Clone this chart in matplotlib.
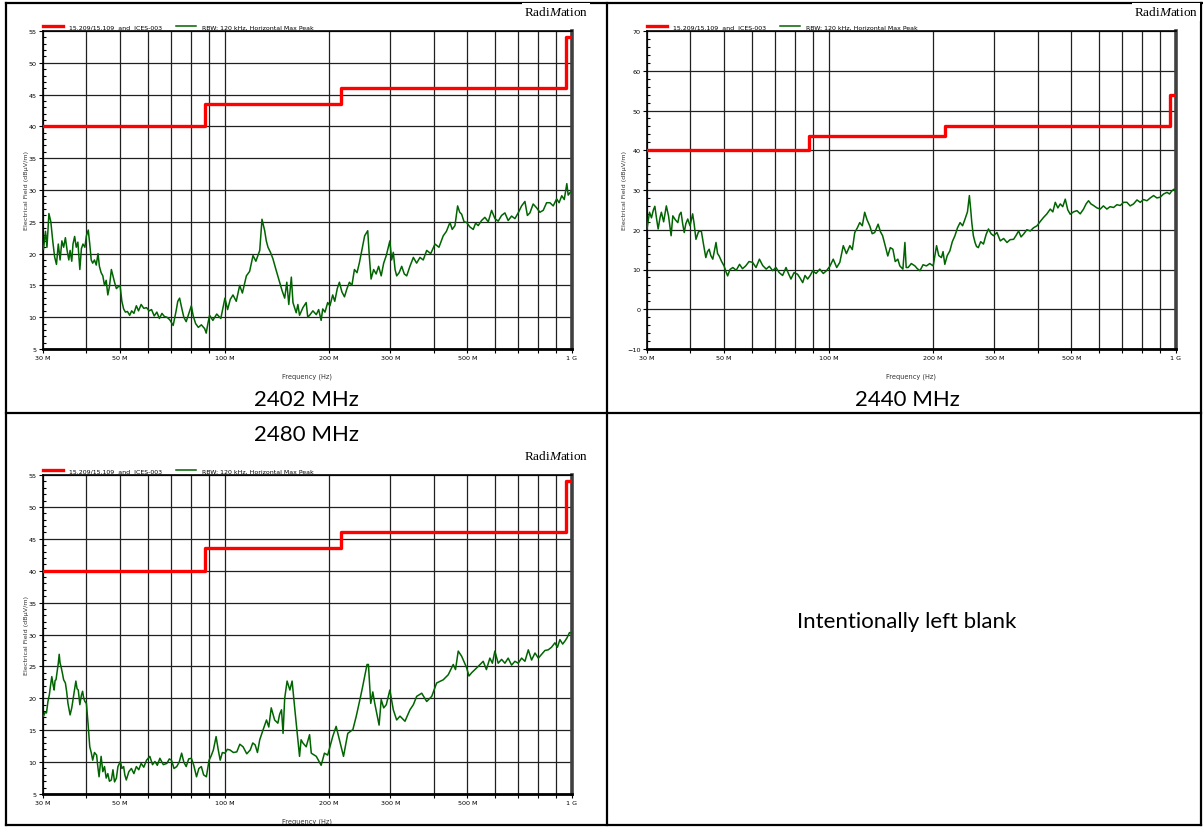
import matplotlib
matplotlib.use("Agg")
import matplotlib.pyplot as plt
from matplotlib.lines import Line2D
from matplotlib.ticker import FixedLocator, MultipleLocator

plt.rcParams['mathtext.fontset'] = 'custom'
plt.rcParams['mathtext.rm'] = 'Liberation Serif'
plt.rcParams['mathtext.it'] = 'Liberation Serif:italic'

# limit line 15.209 / 15.109 (MHz, dBuV/m)
LIMIT_F = [30, 88, 88, 216, 216, 960, 960, 1000]
LIMIT_L = [40, 40, 43.5, 43.5, 46, 46, 54, 54]

# grid / tick frequencies (MHz)
GRID_F = [30, 40, 50, 60, 70, 80, 90, 100, 200, 300, 400, 500, 600, 700, 800, 900, 1000]
LABEL_F = {30: "30 M", 50: "50 M", 100: "100 M", 200: "200 M", 300: "300 M", 500: "500 M", 1000: "1 G"}

CAPTIONS = ["2402 MHz", "2440 MHz", "2480 MHz"]
BLANK_TEXT = "Intentionally left blank"

# measured traces, (MHz, dBuV/m)
TRACE_2402 = [
    (30.1, 20.7), (30.5, 23.5), (30.8, 21.0), (31.2, 26.3), (31.6, 25.0), (32.0, 22.0), (32.4, 19.5),
    (32.8, 18.3), (33.2, 21.5), (33.6, 19.0), (34.0, 22.0), (34.4, 21.0), (34.8, 22.5), (35.2, 20.5),
    (35.6, 19.0), (35.9, 20.5), (36.3, 18.8), (36.6, 21.5), (37.0, 22.7), (37.4, 21.0), (37.8, 21.8),
    (38.3, 17.5), (38.7, 20.8), (39.1, 21.5), (39.6, 21.0), (40.0, 22.8), (40.5, 23.7), (40.9, 21.5),
    (41.3, 19.0), (41.7, 18.5), (42.2, 19.0), (42.7, 18.2), (43.2, 20.0), (43.6, 18.0), (44.1, 17.0),
    (44.6, 16.5), (45.1, 15.0), (45.6, 15.8), (46.1, 13.5), (46.6, 14.8), (47.2, 17.5), (47.7, 16.5),
    (48.2, 15.5), (48.8, 14.5), (49.4, 14.8), (50.0, 15.0), (50.6, 12.5), (51.2, 11.3), (51.8, 10.8),
    (52.5, 10.9), (53.3, 10.3), (54.0, 11.0), (54.8, 10.6), (55.7, 11.8), (56.5, 11.0), (57.5, 12.0),
    (58.5, 11.4), (59.6, 11.5), (60.6, 11.0), (61.6, 11.2), (62.7, 10.2), (63.8, 10.8), (64.9, 9.8),
    (66.0, 10.6), (67.1, 10.1), (68.2, 10.0), (69.5, 9.6), (71.1, 8.7), (72.5, 11.0), (73.3, 12.5),
    (74.2, 13.0), (75.2, 11.5), (76.3, 10.0), (77.5, 9.3), (78.8, 10.5), (80.2, 11.8), (81.2, 10.2),
    (82.5, 9.0), (84.0, 8.4), (85.7, 8.8), (87.6, 8.2), (88.5, 7.5), (89.5, 9.0), (90.5, 10.3),
    (92.5, 9.5), (94.9, 10.5), (97.5, 9.8), (100.2, 13.0), (102.0, 11.2), (103.8, 12.8), (105.7, 13.5),
    (108.0, 12.5), (110.5, 15.0), (112.5, 13.8), (115.5, 16.5), (118.0, 17.2), (120.7, 19.7), (123.0, 18.8),
    (126.2, 20.5), (128.1, 25.4), (130.4, 23.6), (131.8, 22.0), (133.3, 21.0), (135.5, 20.2), (137.7, 19.2),
    (140.5, 17.5), (144.0, 15.5), (146.3, 14.2), (148.9, 13.0), (151.0, 15.5), (153.0, 12.0), (155.6, 16.3),
    (157.3, 12.3), (160.7, 10.7), (162.5, 12.0), (164.3, 10.3), (168.0, 11.5), (171.7, 12.3), (173.5, 10.0),
    (175.6, 10.3), (179.5, 11.0), (183.6, 10.4), (186.5, 11.2), (189.6, 9.5), (191.6, 11.3), (194.5, 10.8),
    (198.0, 12.3), (201.0, 11.8), (204.7, 13.5), (207.5, 12.5), (211.0, 14.5), (214.0, 15.5), (217.5, 14.0),
    (221.3, 13.2), (225.0, 14.5), (228.7, 15.5), (232.5, 15.0), (236.4, 17.5), (240.5, 17.0), (244.4, 18.6),
    (249.8, 21.2), (253.0, 22.8), (258.2, 23.6), (261.0, 19.5), (264.0, 16.0), (268.5, 17.5), (273.0, 16.8),
    (277.5, 18.0), (282.3, 16.5), (287.0, 18.5), (292.0, 19.7), (299.0, 22.0), (302.5, 19.0), (305.9, 20.2),
    (309.5, 17.5), (312.8, 16.5), (318.0, 17.0), (323.4, 18.0), (329.0, 16.8), (334.3, 16.5), (341.5, 18.0),
    (349.4, 19.4), (357.0, 18.5), (365.1, 19.4), (373.0, 19.0), (381.7, 20.5), (392.0, 20.0), (403.2, 21.5),
    (414.0, 21.0), (425.9, 22.8), (435.0, 23.5), (445.3, 24.9), (452.0, 23.8), (460.3, 24.4), (468.5, 27.5),
    (475.0, 26.5), (481.1, 26.2), (489.0, 25.0), (497.3, 24.9), (508.0, 24.2), (519.6, 23.8), (528.0, 24.8),
    (537.0, 24.4), (549.0, 25.2), (561.3, 25.7), (574.0, 25.0), (586.8, 26.8), (600.0, 25.5), (613.1, 25.1),
    (627.0, 26.0), (641.0, 26.4), (655.0, 25.2), (669.9, 25.9), (685.0, 25.5), (700.0, 26.4), (716.0, 27.5),
    (731.9, 28.2), (744.0, 26.0), (756.5, 26.4), (773.0, 27.8), (790.9, 27.2), (808.0, 26.5), (826.3, 26.8),
    (845.0, 28.0), (863.8, 28.0), (883.0, 27.5), (903.1, 28.6), (918.0, 28.0), (934.4, 29.1), (950.0, 28.5),
    (966.2, 31.0), (975.0, 29.2), (987.6, 29.6), (1000, 29.9),
]

TRACE_2440 = [
    (30.0, 20.2), (30.5, 24.4), (30.9, 23.0), (31.3, 25.0), (31.6, 25.9), (32.0, 22.5), (32.3, 20.2),
    (32.7, 23.0), (33.0, 24.4), (33.5, 22.0), (34.1, 26.0), (34.6, 23.5), (35.2, 18.5), (35.6, 23.5),
    (36.2, 22.5), (36.8, 21.8), (37.2, 23.8), (37.6, 24.4), (38.0, 21.5), (38.4, 19.3), (38.8, 21.5),
    (39.3, 22.7), (39.9, 21.0), (40.6, 24.0), (41.0, 21.5), (41.5, 17.6), (42.2, 19.5), (43.0, 19.7),
    (43.6, 16.5), (44.3, 13.0), (44.8, 14.5), (45.3, 15.1), (45.8, 13.5), (46.4, 12.6), (47.4, 16.8),
    (47.9, 14.0), (48.4, 13.4), (49.2, 12.0), (50.0, 10.9), (50.6, 9.5), (51.2, 8.4), (52.0, 10.0),
    (53.0, 10.5), (54.2, 9.8), (55.4, 11.3), (56.5, 10.2), (57.7, 10.9), (59.0, 12.0), (60.4, 11.8),
    (61.8, 10.5), (63.2, 12.6), (64.6, 11.0), (66.1, 10.1), (67.5, 10.8), (69.0, 9.7), (70.5, 10.5),
    (72.1, 9.2), (73.7, 8.5), (75.4, 10.5), (76.6, 9.0), (77.9, 7.6), (79.5, 9.2), (81.4, 8.8),
    (82.8, 7.8), (84.2, 6.7), (85.5, 8.5), (87.0, 7.6), (88.5, 8.5), (90.0, 9.7), (92.0, 9.0),
    (94.3, 10.1), (96.5, 9.0), (98.6, 9.7), (100.8, 10.8), (103.1, 12.6), (105.5, 10.5), (107.7, 11.8),
    (110.2, 16.0), (112.5, 14.0), (115.1, 16.0), (117.0, 15.0), (118.9, 19.3), (121.0, 20.5), (122.9, 21.8),
    (125.0, 21.0), (127.0, 24.4), (129.0, 22.5), (131.3, 21.0), (133.5, 19.0), (135.7, 19.3), (138.8, 21.4),
    (141.0, 19.5), (143.0, 18.5), (145.5, 16.0), (148.0, 13.4), (150.5, 15.5), (153.1, 15.1), (155.5, 12.0),
    (158.2, 12.6), (160.3, 10.9), (163.6, 10.1), (165.8, 16.8), (167.2, 10.5), (169.4, 10.5), (173.0, 11.5),
    (177.2, 10.9), (180.0, 10.2), (183.2, 9.7), (187.0, 11.2), (191.2, 10.9), (195.5, 11.5), (200.0, 10.9),
    (204.5, 16.0), (207.5, 13.5), (211.2, 13.0), (213.5, 14.5), (216.0, 11.3), (219.5, 13.5), (223.4, 14.7),
    (227.0, 17.0), (231.0, 18.5), (235.0, 20.5), (239.0, 21.8), (243.0, 21.0), (247.0, 22.7), (251.0, 24.5),
    (254.2, 28.6), (256.5, 25.0), (258.3, 21.8), (261.0, 18.5), (263.9, 16.8), (266.5, 15.8), (269.7, 15.5),
    (274.0, 17.0), (279.1, 16.4), (284.0, 18.8), (288.5, 20.2), (293.5, 19.0), (298.4, 18.5), (305.2, 19.3),
    (312.0, 17.2), (319.0, 17.8), (326.2, 16.8), (333.0, 17.5), (340.8, 17.6), (346.0, 18.5), (352.3, 19.7),
    (358.0, 18.2), (364.1, 18.9), (372.0, 20.0), (380.7, 19.7), (389.0, 20.5), (398.0, 21.0), (406.0, 22.0),
    (415.6, 23.1), (425.0, 24.0), (434.6, 25.2), (442.0, 24.5), (449.2, 26.9), (457.0, 25.5), (464.3, 26.5),
    (472.0, 25.8), (480.0, 27.7), (488.0, 25.0), (496.1, 23.9), (507.0, 24.5), (518.6, 24.8), (530.0, 24.0),
    (541.8, 25.2), (551.0, 26.5), (560.0, 27.3), (569.0, 26.5), (578.9, 26.1), (592.0, 25.5), (605.2, 25.2),
    (618.0, 26.0), (632.4, 25.2), (646.0, 25.8), (661.0, 25.6), (676.0, 26.3), (691.0, 26.1), (706.0, 26.9),
    (722.3, 26.9), (738.0, 26.0), (754.8, 26.5), (772.0, 27.5), (789.1, 26.9), (806.0, 27.6), (824.8, 27.3),
    (843.0, 28.0), (862.0, 28.6), (881.0, 28.0), (901.0, 28.2), (921.0, 29.0), (942.0, 29.4), (958.0, 29.0),
    (973.6, 29.8), (987.0, 30.2), (1000, 29.6),
]

TRACE_2480 = [
    (30.1, 17.2), (30.4, 17.8), (30.7, 17.7), (31.0, 19.5), (31.3, 20.6), (31.5, 21.8), (31.8, 23.4),
    (32.1, 22.0), (32.3, 21.3), (32.5, 22.8), (32.7, 22.9), (33.0, 24.5), (33.2, 25.5), (33.4, 26.9),
    (33.6, 25.5), (33.8, 25.0), (34.1, 24.0), (34.4, 22.9), (34.8, 22.4), (35.1, 21.0), (35.4, 19.2),
    (35.9, 17.4), (36.3, 18.5), (36.6, 19.8), (37.0, 21.5), (37.3, 22.7), (37.6, 21.5), (37.9, 21.3),
    (38.3, 19.0), (38.7, 20.5), (39.0, 21.1), (39.3, 20.0), (39.6, 19.5), (40.0, 19.2), (40.5, 15.6),
    (40.9, 12.4), (41.3, 11.5), (41.7, 10.3), (42.2, 11.5), (42.8, 11.1), (43.1, 9.5), (43.5, 7.7),
    (44.1, 10.9), (44.6, 8.5), (45.1, 9.3), (45.6, 7.5), (46.1, 8.2), (46.6, 7.0), (47.2, 7.2),
    (47.7, 8.8), (48.2, 6.9), (48.8, 7.5), (49.3, 9.3), (50.1, 10.1), (50.6, 9.0), (51.2, 9.3),
    (51.6, 8.0), (52.1, 7.2), (53.0, 8.5), (53.9, 9.0), (54.8, 8.2), (55.7, 9.3), (56.6, 8.8),
    (57.5, 9.8), (58.5, 9.2), (59.6, 10.3), (60.9, 10.9), (62.0, 9.6), (63.0, 10.1), (64.0, 9.5),
    (65.1, 10.6), (66.6, 9.6), (68.2, 9.8), (69.3, 10.5), (70.3, 10.3), (71.5, 9.0), (72.8, 9.3),
    (74.0, 10.0), (75.2, 11.4), (76.3, 10.0), (77.5, 9.3), (78.8, 10.5), (80.2, 10.6), (81.5, 9.5),
    (83.0, 7.7), (84.3, 9.0), (85.7, 9.3), (87.0, 8.0), (88.6, 7.7), (89.4, 9.0), (90.2, 10.3),
    (91.5, 11.0), (92.8, 11.9), (94.5, 14.0), (95.8, 12.0), (97.1, 10.3), (98.5, 11.5), (100.2, 11.4),
    (101.8, 12.0), (103.6, 11.9), (106.0, 11.5), (108.4, 11.6), (110.6, 12.8), (113.0, 12.4), (115.8, 11.3),
    (118.5, 11.9), (120.5, 13.0), (122.4, 12.7), (124.3, 11.5), (126.2, 13.5), (129.1, 15.1), (132.0, 16.6),
    (134.0, 15.5), (136.2, 18.5), (139.3, 16.6), (142.3, 16.1), (144.0, 17.5), (145.8, 18.2), (147.3, 14.5),
    (148.9, 20.0), (151.3, 22.7), (154.1, 21.3), (156.4, 22.7), (159.3, 18.2), (162.2, 14.0), (164.3, 10.9),
    (166.0, 13.5), (168.0, 13.0), (171.7, 12.4), (175.6, 14.3), (177.6, 11.4), (183.6, 10.9), (189.6, 9.5),
    (193.8, 11.4), (198.0, 11.1), (204.7, 14.0), (209.4, 15.6), (214.0, 13.5), (219.9, 10.9), (226.2, 14.5),
    (234.0, 15.1), (239.3, 17.2), (246.3, 20.3), (249.8, 21.9), (257.0, 25.3), (259.4, 25.3), (263.4, 19.2),
    (267.0, 21.0), (270.5, 19.2), (274.5, 17.5), (278.4, 15.8), (282.3, 19.8), (287.0, 18.5), (292.0, 19.0),
    (299.0, 21.3), (305.9, 18.2), (312.8, 16.6), (319.8, 17.2), (330.5, 16.4), (341.6, 18.2), (349.4, 19.0),
    (357.1, 20.3), (369.3, 20.8), (381.7, 19.5), (394.6, 20.3), (407.7, 22.4), (425.9, 22.9), (440.4, 23.7),
    (455.1, 25.3), (462.0, 24.5), (470.4, 27.4), (481.1, 26.6), (497.3, 24.8), (505.0, 23.5), (514.1, 24.0),
    (537.0, 25.0), (555.1, 25.8), (567.0, 24.5), (580.1, 26.3), (590.0, 25.5), (599.7, 27.4), (613.0, 25.5),
    (627.0, 26.1), (641.0, 25.5), (655.0, 26.3), (670.0, 25.2), (685.0, 25.8), (700.0, 25.5), (716.0, 26.3),
    (732.0, 25.8), (748.5, 27.6), (765.0, 26.0), (782.5, 27.1), (800.0, 26.3), (818.0, 26.9), (836.0, 27.5),
    (854.3, 27.6), (873.0, 28.0), (893.0, 28.7), (908.0, 28.0), (923.0, 29.2), (940.0, 28.5), (955.0, 29.0),
    (968.0, 29.5), (983.5, 30.3), (1000, 30.2),
]

W, H = 1203, 828
fig = plt.figure(figsize=(W / 100, H / 100), dpi=100)


def px_box(left, top, right, bottom):
    return [left / W, 1 - bottom / H, (right - left) / W, (bottom - top) / H]


def emc_chart(rect, trace, ylo, yhi, ystep, yminor, logo_x, logo_y):
    ax = fig.add_axes(rect)
    f = [p[0] for p in trace]
    lv = [p[1] for p in trace]
    ax.plot(LIMIT_F, LIMIT_L, color="#ff0000", lw=2.4, label="15.209/15.109  and  ICES-003", zorder=4)
    ax.plot(f, lv, color="#006400", lw=1.1, label="RBW: 120 kHz, Horizontal Max Peak", zorder=3)
    ax.set_xscale("log")
    ax.set_xlim(30, 1000)
    ax.set_ylim(ylo, yhi)
    ax.xaxis.set_major_locator(FixedLocator(GRID_F))
    ax.xaxis.set_minor_locator(FixedLocator([]))
    ax.set_xticklabels([LABEL_F.get(g, "") for g in GRID_F])
    ax.yaxis.set_major_locator(MultipleLocator(ystep))
    ax.yaxis.set_minor_locator(MultipleLocator(yminor))
    ax.grid(True, which="major", color="#202020", lw=0.9)
    ax.tick_params(axis="both", which="major", labelsize=4.6, length=3, width=0.8, pad=1.5, direction="out")
    ax.tick_params(axis="y", which="minor", length=2.5, width=0.8, direction="in")
    for side in ["left", "top"]:
        ax.spines[side].set_linewidth(1.2)
    ax.spines["bottom"].set_linewidth(2.0)
    ax.spines["right"].set_linewidth(2.6)
    ax.spines["right"].set_color("#404040")
    ax.set_xlabel("Frequency (Hz)", fontsize=4.8, labelpad=9, color="#333333")
    ax.set_ylabel("Electrical Field (dB\u00b5V/m)", fontsize=4.6, labelpad=0, color="#333333")
    ax.legend(loc="lower left", bbox_to_anchor=(0.0, 1.005), ncol=2, frameon=False, fontsize=4.5,
              handlelength=3.2, handletextpad=0.9, columnspacing=2.3, borderaxespad=0, borderpad=0)
    fig.text(logo_x / W, 1 - logo_y / H, r"$\mathrm{Radi}\mathit{M}\mathrm{ation}$", fontsize=9.5,
             ha="right", va="center", bbox=dict(facecolor="white", edgecolor="none", pad=1.5), zorder=5)
    return ax


# table grid
def hline(y, x0, x1):
    fig.add_artist(Line2D([x0 / W, x1 / W], [1 - y / H, 1 - y / H], color="black", lw=1.6))


def vline(x, y0, y1):
    fig.add_artist(Line2D([x / W, x / W], [1 - y0 / H, 1 - y1 / H], color="black", lw=1.6))


hline(4, 6, 1203)
hline(414, 6, 1201)
hline(826, 6, 1201)
vline(6, 4, 826)
vline(607, 4, 826)
vline(1201, 4, 826)

emc_chart(px_box(43, 32, 572, 350), TRACE_2402, 5, 55, 5, 1, 588, 13)
emc_chart(px_box(647, 32, 1176, 350), TRACE_2440, -10, 70, 10, 2, 1198, 13)
emc_chart(px_box(43, 476, 572, 795), TRACE_2480, 5, 55, 5, 1, 588, 457)

cap_font = dict(fontsize=16, family="Lato", ha="center", va="center")
fig.text(306 / W, 1 - 400 / H, CAPTIONS[0], **cap_font)
fig.text(907 / W, 1 - 400 / H, CAPTIONS[1], **cap_font)
fig.text(306 / W, 1 - 435 / H, CAPTIONS[2], **cap_font)
fig.text(907 / W, 1 - 622 / H, BLANK_TEXT, **cap_font)

fig.savefig("out.png", dpi=100)
